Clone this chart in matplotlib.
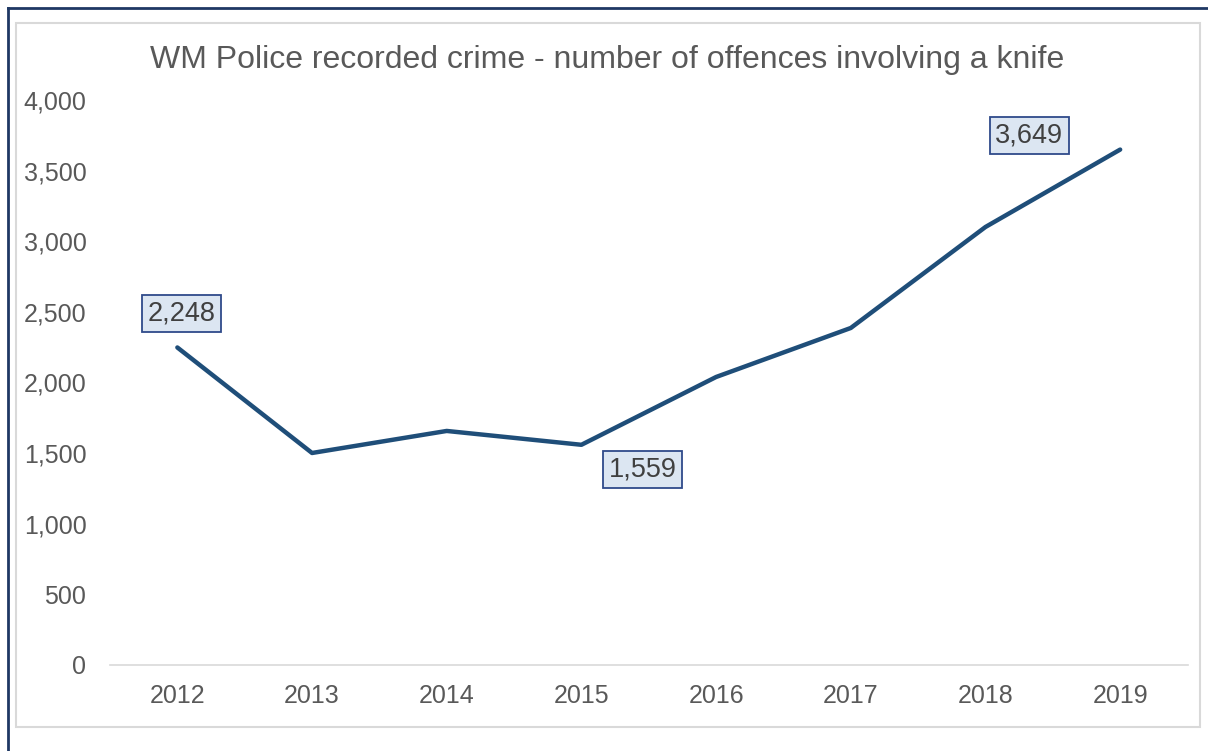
import matplotlib.pyplot as plt
from matplotlib.patches import Rectangle
from matplotlib.ticker import FuncFormatter

# Knife-crime offences recorded by West Midlands Police
years = ["2012", "2013", "2014", "2015", "2016", "2017", "2018", "2019"]
offences = [2248, 1501, 1657, 1559, 2039, 2386, 3101, 3649]

# which points get a value callout, and where the box sits (pixels from point)
label_idx = [0, 3, 7]
label_offsets = [(4, 34), (61, -25), (-91, 14)]

LINE_COL = "#1F4E79"
TEXT_COL = "#595959"

plt.rcParams["font.family"] = ["Liberation Sans", "DejaVu Sans"]

fig = plt.figure(figsize=(12.08, 7.51), dpi=100)
ax = fig.add_axes([110 / 1208, 86 / 751, 1077.5 / 1208, 565 / 751])

x = list(range(len(years)))
ax.plot(x, offences, color=LINE_COL, lw=3.2, solid_capstyle="round", solid_joinstyle="round")

for i, (dx, dy) in zip(label_idx, label_offsets):
    ax.annotate(f"{offences[i]:,}", xy=(i, offences[i]), xytext=(dx, dy),
                textcoords="offset pixels", ha="center", va="center",
                fontsize=19.5, color="#404040",
                bbox=dict(boxstyle="square,pad=0.2", fc="#DCE6F2", ec="#2F4A8A", lw=1.3))

ax.set_xlim(-0.5, len(years) - 0.5)
ax.set_ylim(0, 4000)
ax.set_yticks(range(0, 4001, 500))
ax.yaxis.set_major_formatter(FuncFormatter(lambda v, p: f"{int(v):,}"))
ax.set_xticks(x)
ax.set_xticklabels(years)
ax.tick_params(axis="both", length=0, labelsize=18, colors=TEXT_COL)
ax.tick_params(axis="y", pad=17)
ax.tick_params(axis="x", pad=14)

for side in ["top", "right", "left"]:
    ax.spines[side].set_visible(False)
ax.spines["bottom"].set_color("#D9D9D9")
ax.spines["bottom"].set_linewidth(1.2)

fig.text(607 / 1208, 1 - 60 / 751, "WM Police recorded crime - number of offences involving a knife",
         ha="center", va="center", fontsize=23, color=TEXT_COL)

# chart frame: light grey inner box, navy outer edge on top/left
fig.patches.append(Rectangle((16 / 1208, 1 - 727 / 751), 1184 / 1208, 704 / 751,
                             transform=fig.transFigure, fill=False, ec="#D9D9D9", lw=1.5))
fig.lines.append(plt.Line2D([8 / 1208, 8 / 1208], [0, 1 - 8 / 751], transform=fig.transFigure,
                            color="#1F3864", lw=2))
fig.lines.append(plt.Line2D([8 / 1208, 1], [1 - 8 / 751, 1 - 8 / 751], transform=fig.transFigure,
                            color="#1F3864", lw=2))

fig.savefig("out.png", dpi=100)
